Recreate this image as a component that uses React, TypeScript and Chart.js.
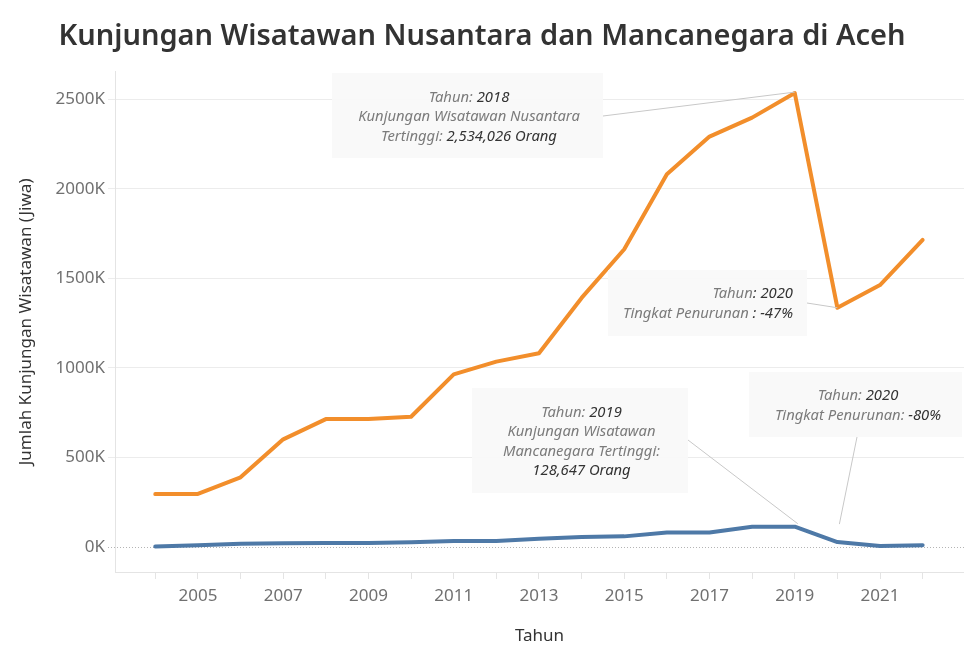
import React, { useEffect, useRef } from 'react';
import { Chart, registerables } from 'chart.js';

Chart.register(...registerables);

// ---- data ----
const years = [2004, 2005, 2006, 2007, 2008, 2009, 2010, 2011, 2012, 2013, 2014, 2015, 2016, 2017, 2018, 2019, 2020, 2021, 2022];
const nusantara = [294000, 295000, 388000, 600000, 713000, 714000, 726000, 963000, 1034000, 1081000, 1390000, 1662000, 2081000, 2291000, 2397000, 2534026, 1335000, 1462000, 1714000];
const mancanegara = [2000, 9000, 17000, 19000, 21000, 21000, 25000, 32000, 32000, 45000, 54000, 58000, 80000, 80000, 112000, 112000, 26000, 4000, 9000];
const yTickValues = [0, 500000, 1000000, 1500000, 2000000, 2500000];
const xLabelYears = [2005, 2007, 2009, 2011, 2013, 2015, 2017, 2019, 2021];

const chartTitle = 'Kunjungan Wisatawan Nusantara dan Mancanegara di Aceh';
const xTitle = 'Tahun';
const yTitle = 'Jumlah Kunjungan Wisatawan (Jiwa)';

// annotation texts: each line = list of [text, isValue]
type Seg = [string, boolean];
const noteNusantaraPeak: Seg[][] = [
  [['Tahun:', false], [' 2018', true]],
  [['Kunjungan Wisatawan Nusantara', false]],
  [['Tertinggi:', false], [' 2,534,026 Orang', true]],
];
const noteNusantaraDrop: Seg[][] = [
  [['Tahun', false], [': 2020', true]],
  [['Tingkat Penurunan', false], [' : -47%', true]],
];
const noteMancanegaraDrop: Seg[][] = [
  [['Tahun:', false], [' 2020', true]],
  [['Tingkat Penurunan:', false], [' -80%', true]],
];
const noteMancanegaraPeak: Seg[][] = [
  [['Tahun:', false], [' 2019', true]],
  [['Kunjungan Wisatawan', false]],
  [['Mancanegara Tertinggi:', false]],
  [['128,647 Orang', true]],
];

// ---- layout of annotations (pixel layout, not data) ----
const annotationLayout = [
  { lines: noteNusantaraPeak, box: [332, 73, 603, 158], align: 'center', tx: 469, ty: 97.3, from: [603, 116], ds: 0, idx: 15, off: [0, -1] },
  { lines: noteNusantaraDrop, box: [608, 270, 807, 336], align: 'right', tx: 793, ty: 294, from: [807, 303], ds: 0, idx: 16, off: [0, 0] },
  { lines: noteMancanegaraDrop, box: [749, 372, 962, 437], align: 'center', tx: 858, ty: 396, from: [857, 437], ds: 1, idx: 16, off: [2, -18] },
  { lines: noteMancanegaraPeak, box: [472, 388, 688, 493], align: 'center', tx: 581.5, ty: 412.5, from: [688, 440], ds: 1, idx: 15, off: [3, -3] },
];

const FONT = "'Noto Sans', sans-serif";

const annotationPlugin = {
  id: 'annotations',
  beforeDatasetsDraw(chart: any) {
    const { ctx, chartArea, scales } = chart;
    const y0 = scales.y.getPixelForValue(0);
    ctx.save();
    ctx.strokeStyle = '#b4b4b4';
    ctx.lineWidth = 1;
    ctx.setLineDash([1, 2]);
    ctx.beginPath();
    ctx.moveTo(chartArea.left - 7, Math.round(y0) + 0.5);
    ctx.lineTo(chartArea.right, Math.round(y0) + 0.5);
    ctx.stroke();
    ctx.restore();
  },
  afterDatasetsDraw(chart: any) {
    const { ctx } = chart;
    ctx.save();
    for (const a of annotationLayout) {
      const [x1, y1, x2, y2] = a.box;
      ctx.fillStyle = 'rgba(248,248,248,0.92)';
      ctx.fillRect(x1, y1, x2 - x1, y2 - y1);
      const pt = chart.getDatasetMeta(a.ds).data[a.idx];
      ctx.strokeStyle = '#c8c8c8';
      ctx.lineWidth = 1;
      ctx.beginPath();
      ctx.moveTo(a.from[0], a.from[1]);
      ctx.lineTo(pt.x + a.off[0], pt.y + a.off[1]);
      ctx.stroke();
      ctx.font = `italic 14.8px ${FONT}`;
      ctx.textBaseline = 'middle';
      ctx.textAlign = 'left';
      a.lines.forEach((line, i) => {
        const widths = line.map(([t]) => ctx.measureText(t).width);
        const total = widths.reduce((s, w) => s + w, 0);
        let x = a.align === 'center' ? a.tx - total / 2 : a.align === 'right' ? a.tx - total : a.tx;
        const y = a.ty + i * 19.5;
        line.forEach(([t, v], j) => {
          ctx.fillStyle = v ? '#333333' : '#7b7b7b';
          ctx.fillText(t, x, y);
          x += widths[j];
        });
      });
    }
    ctx.restore();
  },
};

export default function App() {
  const ref = useRef<HTMLCanvasElement>(null);
  useEffect(() => {
    document.body.style.margin = '0';
    Chart.defaults.font.family = FONT;
    const chart = new Chart(ref.current as HTMLCanvasElement, {
      type: 'line',
      data: {
        datasets: [
          {
            label: 'Nusantara',
            data: years.map((x, i) => ({ x, y: nusantara[i] })),
            borderColor: '#F28E2B',
            backgroundColor: '#F28E2B',
            borderWidth: 4,
            pointRadius: 0,
            borderJoinStyle: 'round',
            borderCapStyle: 'round',
          },
          {
            label: 'Mancanegara',
            data: years.map((x, i) => ({ x, y: mancanegara[i] })),
            borderColor: '#4E79A7',
            backgroundColor: '#4E79A7',
            borderWidth: 4,
            pointRadius: 0,
            borderJoinStyle: 'round',
            borderCapStyle: 'round',
          },
        ],
      },
      options: {
        responsive: false,
        animation: false,
        layout: { padding: 0 },
        plugins: {
          legend: { display: false },
          tooltip: { enabled: false },
          title: {
            display: true,
            text: chartTitle,
            color: '#333333',
            font: { family: FONT, size: 29, weight: '600' },
            padding: { top: 19, bottom: 18 },
          },
        },
        scales: {
          x: {
            type: 'linear',
            min: 2003.055,
            max: 2022.97,
            afterBuildTicks: (s: any) => {
              s.ticks = years.map((v) => ({ value: v }));
            },
            afterFit: (s: any) => {
              s.height = 76;
            },
            ticks: {
              autoSkip: false,
              maxRotation: 0,
              color: '#707070',
              font: { size: 17 },
              padding: 7,
              callback: (v: any) => (xLabelYears.includes(Number(v)) ? String(v) : ''),
            },
            grid: { drawOnChartArea: false, tickLength: 7, color: '#e4e4e4' },
            border: { color: '#e4e4e4' },
            title: { display: true, text: xTitle, color: '#333333', font: { size: 17 }, padding: { top: 0, bottom: 2 } },
          },
          y: {
            min: -141000,
            max: 2653000,
            afterBuildTicks: (s: any) => {
              s.ticks = yTickValues.map((v) => ({ value: v }));
            },
            afterFit: (s: any) => {
              s.width = 115;
            },
            ticks: {
              color: '#707070',
              font: { size: 17 },
              padding: 3,
              callback: (v: any) => `${Math.round(Number(v) / 1000)}K`,
            },
            grid: {
              tickLength: 7,
              color: (c: any) => (c.tick && c.tick.value === 0 ? 'rgba(0,0,0,0)' : '#ececec'),
            },
            border: { color: '#e4e4e4' },
            title: { display: true, text: yTitle, color: '#333333', font: { size: 17 }, padding: { top: 16, bottom: 0 } },
          },
        },
      },
      plugins: [annotationPlugin],
    } as any);
    return () => chart.destroy();
  }, []);
  return <canvas ref={ref} width={964} height={648} style={{ display: 'block' }} />;
}
